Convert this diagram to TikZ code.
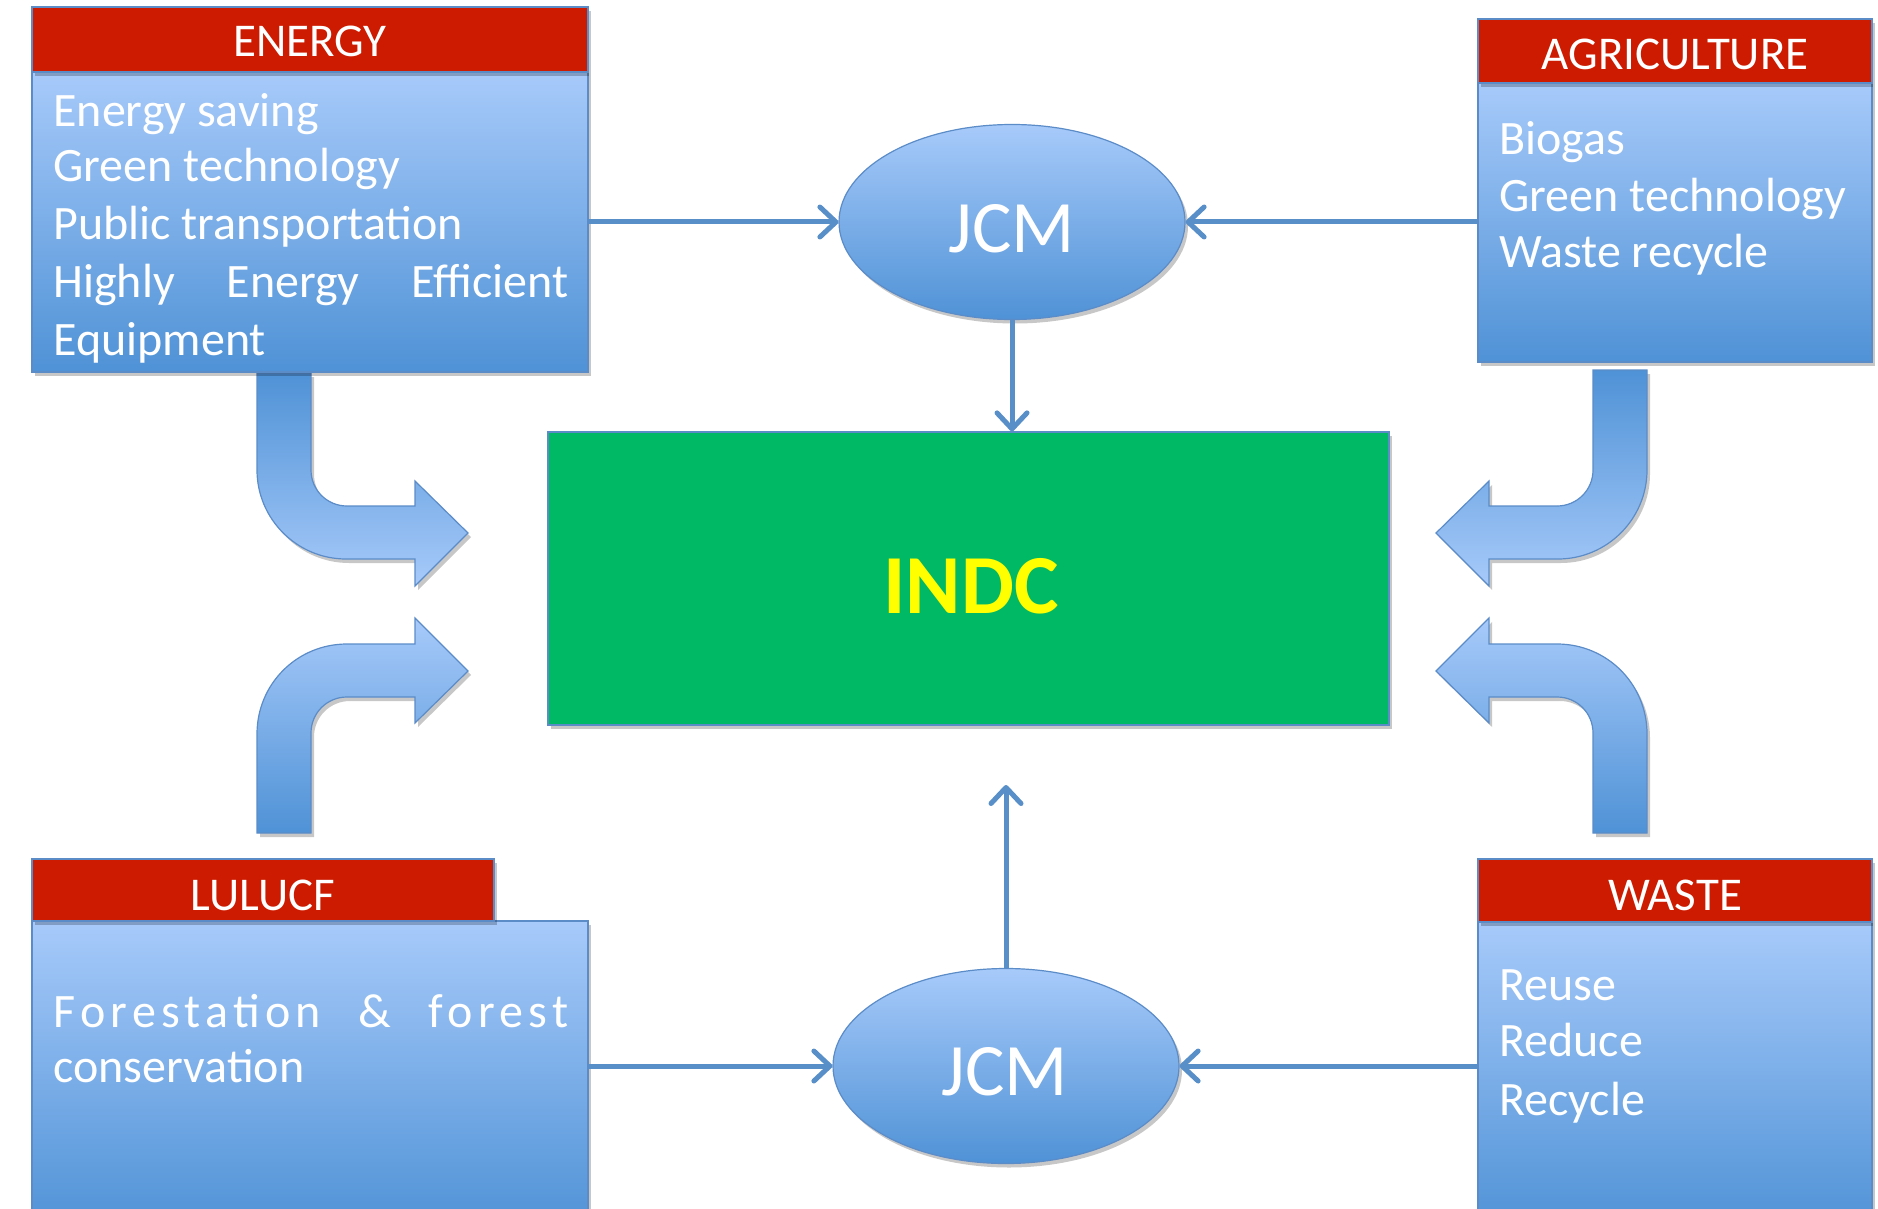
\documentclass[tikz,border=0pt]{standalone}
\usepackage{fontspec}
\setmainfont{Carlito}
\usetikzlibrary{arrows.meta,shapes.geometric,fit,shadows}
\definecolor{hdrred}{RGB}{204,27,0}
\definecolor{bluetop}{RGB}{167,202,250}
\definecolor{bluebot}{RGB}{79,146,214}
\definecolor{bordblue}{RGB}{91,140,200}
\definecolor{linkblue}{RGB}{88,143,201}
\definecolor{indcgreen}{RGB}{0,185,100}
\definecolor{indcyellow}{RGB}{255,255,0}
\tikzset{
  shad/.style={drop shadow={shadow xshift=1.5pt, shadow yshift=-2pt, opacity=0.22, fill=black}},
  hdr/.style={rectangle, fill=hdrred, draw=bordblue, line width=0.6pt, inner sep=0pt, shad},
  body/.style={rectangle, top color=bluetop, bottom color=bluebot, draw=bordblue, line width=0.6pt, inner sep=0pt, shad},
  jcm/.style={ellipse, top color=bluetop, bottom color=bluebot, draw=bordblue, line width=0.6pt, inner sep=0pt, minimum width=173pt, minimum height=97.5pt, shad},
  indcbox/.style={rectangle, fill=indcgreen, draw=bordblue, line width=0.6pt, inner sep=0pt, shad},
  item/.style={anchor=base west, inner sep=0pt, text=white, font=\fontsize{24}{28}\selectfont},
  hdrtext/.style={anchor=base, inner sep=0pt, text=white, font=\fontsize{23.5}{28}\selectfont},
  jcmtext/.style={anchor=base, inner sep=0pt, text=white, font=\fontsize{37}{40}\selectfont},
  indctext/.style={anchor=base, inner sep=0pt, text=indcyellow, font=\fontsize{42}{46}\selectfont\bfseries},
  conn/.style={draw=linkblue, line width=2.5pt, -{Straight Barb[length=8pt,width=15pt,line cap=round,line join=round]}},
  bendup/.style={top color=bluebot, bottom color=bluetop, draw=bordblue, line width=0.6pt, shad},
  benddown/.style={top color=bluetop, bottom color=bluebot, draw=bordblue, line width=0.6pt, shad}
}
\begin{document}
\begin{tikzpicture}[x=0.5pt,y=-0.5pt]
\useasboundingbox (0,0) rectangle (1878,1209);
\fill[white] (0,0) rectangle (1878,1209);

% bent arrows
\path[bendup] (257,373) -- (257,470) .. controls (257,519) and (297,559) .. (346,559) -- (415,559) -- (415,586) -- (468,533) -- (415,481) -- (415,506) -- (347,506) .. controls (327,506) and (311,490) .. (311,470) -- (311,373) -- cycle;
\path[benddown] (257,833) -- (257,734) .. controls (257,684) and (297,644) .. (347,644) -- (415,644) -- (415,618) -- (468,671) -- (415,723) -- (415,697) -- (347,697) .. controls (327,697) and (311,713) .. (311,733) -- (311,833) -- cycle;
\path[bendup] (1647,370) -- (1647,470) .. controls (1647,519) and (1607,559) .. (1558,559) -- (1489,559) -- (1489,586) -- (1436,533) -- (1489,481) -- (1489,506) -- (1557,506) .. controls (1577,506) and (1593,490) .. (1593,470) -- (1593,370) -- cycle;
\path[benddown] (1647,833) -- (1647,734) .. controls (1647,684) and (1607,644) .. (1557,644) -- (1489,644) -- (1489,618) -- (1436,671) -- (1489,723) -- (1489,697) -- (1557,697) .. controls (1577,697) and (1593,713) .. (1593,733) -- (1593,833) -- cycle;

% boxes
\node[body, fit={(32,72) (588,372)}] (energyb) {};
\node[hdr, fit={(32,7) (588,72)}] (energyh) {};
\node[body, fit={(1478,83) (1872,362)}] (agrib) {};
\node[hdr, fit={(1478,19) (1872,83)}] (agrih) {};
\node[body, fit={(32,921) (588,1230)}] (lulub) {};
\node[hdr, fit={(32,859) (494,921)}] (luluh) {};
\node[body, fit={(1478,922) (1872,1230)}] (wasteb) {};
\node[hdr, fit={(1478,859) (1872,922)}] (wasteh) {};

\node[indcbox, fit={(548,432) (1389,725)}] (indc) {};
\node[jcm] (jcm1) at (1012,222) {};
\node[jcm] (jcm2) at (1006,1066) {};

% header texts
\node[hdrtext] (energyt) at (310,57) {ENERGY};
\node[hdrtext] (agrit) at (1675,70) {AGRICULTURE};
\node[hdrtext] (lulut) at (263,910) {LULUCF};
\node[hdrtext] (wastet) at (1675,910) {WASTE};

% body texts
\node[item] (e1) at (53,127) {Energy saving};
\node[item] (e2) at (53,182) {Green technology};
\node[item] (e3) at (53,240) {Public transportation};
\node[item] (e4) at (53,297) {\makebox[257.5pt][s]{Highly\hfill Energy\hfill Efficient}};
\node[item] (e5) at (53,355) {Equipment};

\node[item] (a1) at (1499,155) {Biogas};
\node[item] (a2) at (1499,212) {Green technology};
\node[item] (a3) at (1499,268) {Waste recycle};

\node[item] (l1) at (53,1027) {\addfontfeature{LetterSpace=11}\makebox[257.5pt][s]{Forestation\hfill\&\hfill forest}};
\node[item] (l2) at (53,1082) {conservation};

\node[item] (w1) at (1499,1000) {Reuse};
\node[item] (w2) at (1499,1056) {Reduce};
\node[item] (w3) at (1499,1115) {Recycle};

\node[jcmtext] (jcm1t) at (1012,253) {JCM};
\node[jcmtext] (jcm2t) at (1005,1095) {JCM};
\node[indctext] (indct) at (971,613) {INDC};

% connectors
\coordinate (upend) at (1006,785);
\draw[conn] (energyb.east |- jcm1.west) -- (jcm1.west);
\draw[conn] (agrib.west |- jcm1.east) -- (jcm1.east);
\draw[conn] (jcm1.south) -- (jcm1.south |- indc.north);
\draw[conn] (lulub.east |- jcm2.west) -- (jcm2.west);
\draw[conn] (wasteb.west |- jcm2.east) -- (jcm2.east);
\draw[conn] (jcm2.north) -- (upend);
\end{tikzpicture}
\end{document}
